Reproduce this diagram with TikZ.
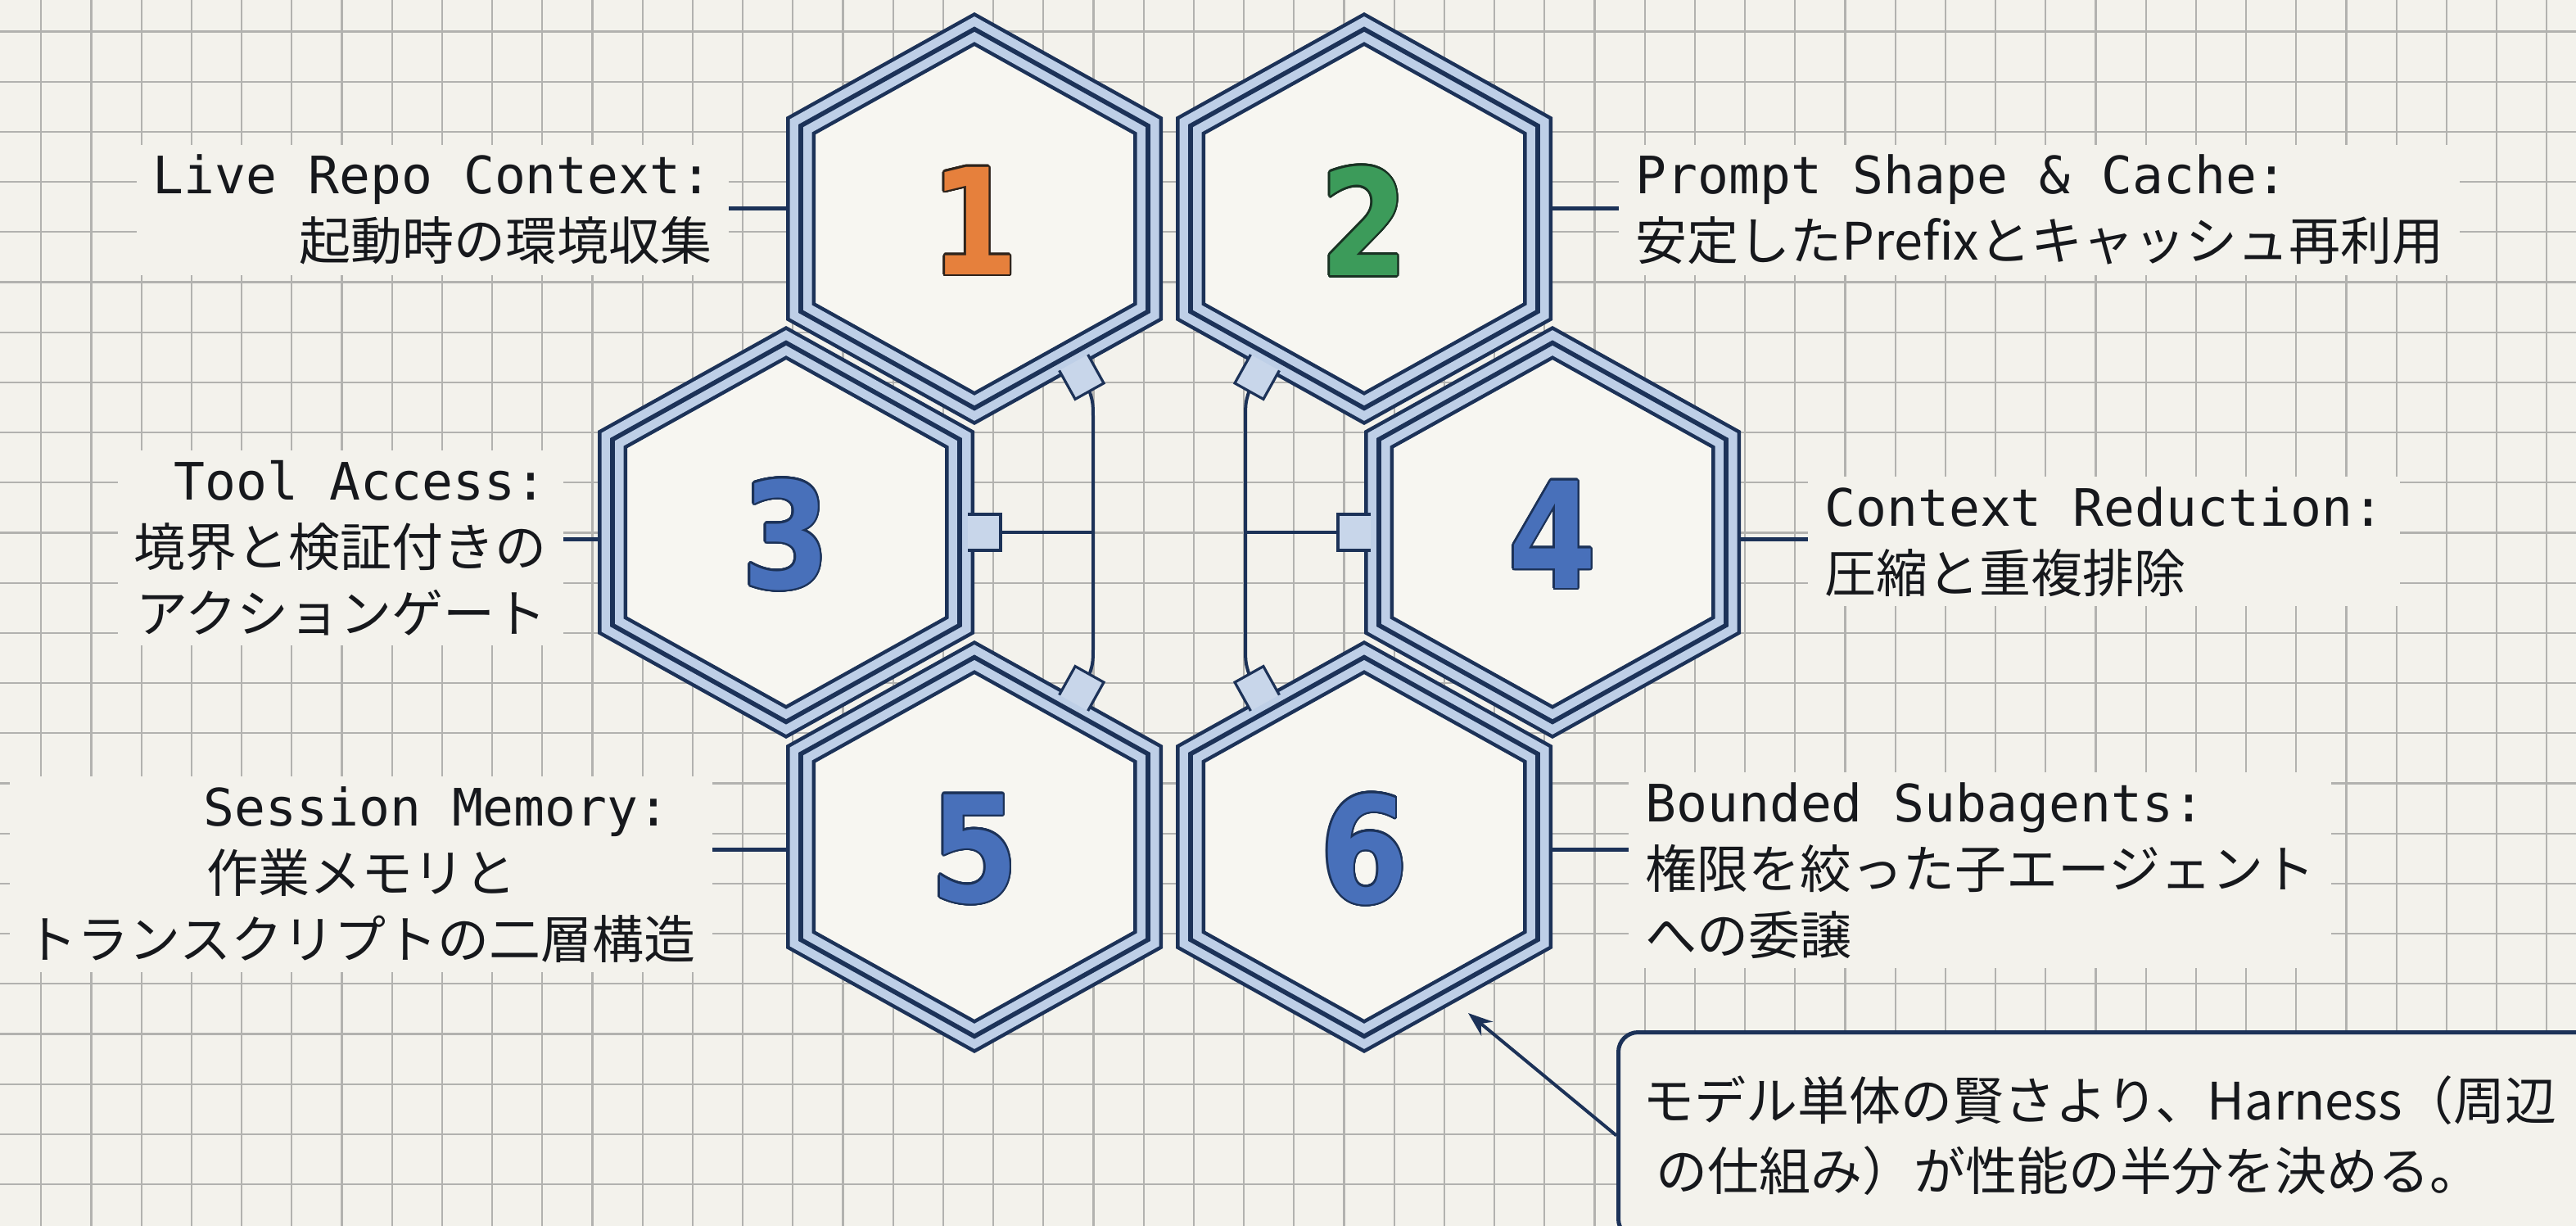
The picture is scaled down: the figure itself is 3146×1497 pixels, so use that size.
\documentclass[tikz,border=0pt]{standalone}
\usepackage{fontspec}
\setmonofont{DejaVu Sans Mono}
\newfontfamily\jp{Noto Sans CJK JP}
\newfontfamily\digitfont{DejaVu Sans}
\usepackage[copies]{contour}
\usetikzlibrary{arrows.meta}
\definecolor{navy}{RGB}{28,50,88}
\definecolor{band}{RGB}{190,207,231}
\definecolor{paper}{RGB}{243,242,236}
\definecolor{hexin}{RGB}{247,246,241}
\definecolor{gridc}{RGB}{178,178,175}
\definecolor{ink}{RGB}{22,24,28}
\definecolor{numorange}{RGB}{230,128,60}
\definecolor{numgreen}{RGB}{60,155,90}
\definecolor{numblue}{RGB}{72,112,186}
\definecolor{darkone}{RGB}{45,35,28}
\definecolor{darktwo}{RGB}{25,50,35}
\definecolor{tabc}{RGB}{200,214,234}
\contourlength{1.3pt}
\contournumber{24}
\newcommand\hextab[4]{\fill[tabc] #1 -- #2 -- #3 -- #4 -- cycle; \draw[tabedge] #2 -- #3 -- #4 -- #1;}
\newcommand\bignum[3]{\scalebox{0.86}[1]{\contour{#1}{\textcolor{#2}{#3}}}}
\begin{document}
\begin{tikzpicture}[x=0.5pt,y=-0.5pt,
  hexcell/.pic={\path[draw=navy, line width=18pt, line join=miter, fill=hexin,
      postaction={draw=band, line width=13.5pt, line join=miter},
      postaction={draw=navy, line width=2.8pt, line join=miter}]
      (0,-231.4) -- (212,-113.4) -- (212,113.4) -- (0,231.4) -- (-212,113.4) -- (-212,-113.4) -- cycle;},
  gridline/.style={draw=gridc, line width=1.1pt},
  tabedge/.style={draw=navy, line width=1.6pt, line join=miter},
  wire/.style={draw=navy, line width=2pt},
  conn/.style={draw=navy, line width=2.5pt},
  lab/.style={fill=paper, inner xsep=10pt, inner ysep=6pt, text=ink, font=\ttfamily\fontsize{31.5}{40.5}\selectfont},
  labr/.style={lab, align=right, anchor=base east},
  labl/.style={lab, align=left, anchor=base west},
  numtxt/.style={font=\digitfont\bfseries\fontsize{90}{90}\selectfont, inner sep=0pt},
  callout/.style={anchor=north west, draw=navy, line width=2.5pt, rounded corners=12pt, fill=paper,
      text width=610pt, align=left, inner xsep=15pt, minimum height=126pt,
      font=\jp\fontsize{31.5}{43}\selectfont, text=ink},
  arr/.style={draw=navy, line width=2pt, -{Stealth[length=15pt,width=11pt]}}
]
\useasboundingbox (0,0) rectangle (3146,1497);
\clip (0,0) rectangle (3146,1497);
\fill[paper] (0,0) rectangle (3146,1497);
\foreach \i in {0,...,50} \draw[gridline] ({50.3+61.2*\i},0) -- ({50.3+61.2*\i},1497);
\foreach \j in {0,...,23} \draw[gridline] (0,{38.5+61.2*\j}) -- (3146,{38.5+61.2*\j});

% hex centres
\coordinate (c1) at (1190,267);
\coordinate (c2) at (1666,267);
\coordinate (c3) at (960,650);
\coordinate (c4) at (1896,650);
\coordinate (c5) at (1190,1034);
\coordinate (c6) at (1666,1034);
\pic at (c1) {hexcell};
\pic at (c2) {hexcell};
\pic at (c3) {hexcell};
\pic at (c4) {hexcell};
\pic at (c5) {hexcell};
\pic at (c6) {hexcell};

% tabs facing the central slot
\hextab{(1293.6,452.4)}{(1328.6,433.0)}{(1348.0,467.9)}{(1313.1,487.4)}
\hextab{(1293.6,848.6)}{(1328.6,868.0)}{(1348.0,833.1)}{(1313.1,813.6)}
\hextab{(1562.4,452.4)}{(1527.4,433.0)}{(1508.0,467.9)}{(1542.9,487.4)}
\hextab{(1562.4,848.6)}{(1527.4,868.0)}{(1508.0,833.1)}{(1542.9,813.6)}
\hextab{(1182,628)}{(1182,672)}{(1222,672)}{(1222,628)}
\hextab{(1674,628)}{(1674,672)}{(1634,672)}{(1634,628)}

% wiring
\coordinate (t1) at (1330.6,477.7);
\coordinate (t5) at (1330.6,823.3);
\coordinate (t2) at (1525.4,477.7);
\coordinate (t6) at (1525.4,823.3);
\coordinate (t3) at (1222,650);
\coordinate (t4) at (1634,650);
\coordinate (jl) at (1335,650);
\coordinate (jr) at (1521,650);
\draw[wire] (t1) .. controls (1335,492) .. (1335,518) -- (jl) -- (1335,783) .. controls (1335,809) .. (t5);
\draw[wire] (t2) .. controls (1521,492) .. (1521,518) -- (jr) -- (1521,783) .. controls (1521,809) .. (t6);
\draw[wire] (t3) -- (jl);
\draw[wire] (t4) -- (jr);

% numbers
\node[numtxt] (n1) at (1190,271) {\bignum{darkone}{numorange}{1}};
\node[numtxt] (n2) at (1666,271) {\bignum{darktwo}{numgreen}{2}};
\node[numtxt] (n3) at (960,654) {\bignum{navy}{numblue}{3}};
\node[numtxt] (n4) at (1896,654) {\bignum{navy}{numblue}{4}};
\node[numtxt] (n5) at (1190,1038) {\bignum{navy}{numblue}{5}};
\node[numtxt] (n6) at (1666,1038) {\bignum{navy}{numblue}{6}};

% labels (anchor = baseline of the last line)
\node[labr] (L1) at (890,318) {Live Repo Context:\\{\jp 起動時の環境収集}};
\node[labl] (L2) at (1977,318) {Prompt Shape \& Cache:\\{\jp 安定したPrefixとキャッシュ再利用}};
\node[labr] (L3) at (688,772) {Tool Access:\\{\jp 境界と検証付きの}\\{\jp アクションゲート}};
\node[labl] (L4) at (2208,723) {Context Reduction:\\{\jp 圧縮と重複排除}};
\node[labr] (L5) at (870,1170) {Session Memory:\rule{16pt}{0pt}\\{\jp 作業メモリと}\rule{109.5pt}{0pt}\\{\jp トランスクリプトの二層構造}};
\node[labl] (L6) at (1989,1165) {Bounded Subagents:\\{\jp 権限を絞った子エージェント}\\{\jp への委譲}};

% connectors
\coordinate (h1w) at (960,255);
\coordinate (h2e) at (1896,255);
\coordinate (h3w) at (730,658);
\coordinate (h4e) at (2126,658);
\coordinate (h5w) at (960,1037);
\coordinate (h6e) at (1896,1037);
\draw[conn] (h1w) -- (L1.east |- h1w);
\draw[conn] (h2e) -- (L2.west |- h2e);
\draw[conn] (h3w) -- (L3.east |- h3w);
\draw[conn] (h4e) -- (L4.west |- h4e);
\draw[conn] (h5w) -- (L5.east |- h5w);
\draw[conn] (h6e) -- (L6.west |- h6e);

% callout
\node[callout] (note) at (1974,1258) {モデル単体の賢さより、Harness（周辺\\\hspace*{8pt}の仕組み）が性能の半分を決める。};
\coordinate (h6tip) at (1793,1237);
\draw[arr] (note.west) -- (h6tip);
\end{tikzpicture}
\end{document}
